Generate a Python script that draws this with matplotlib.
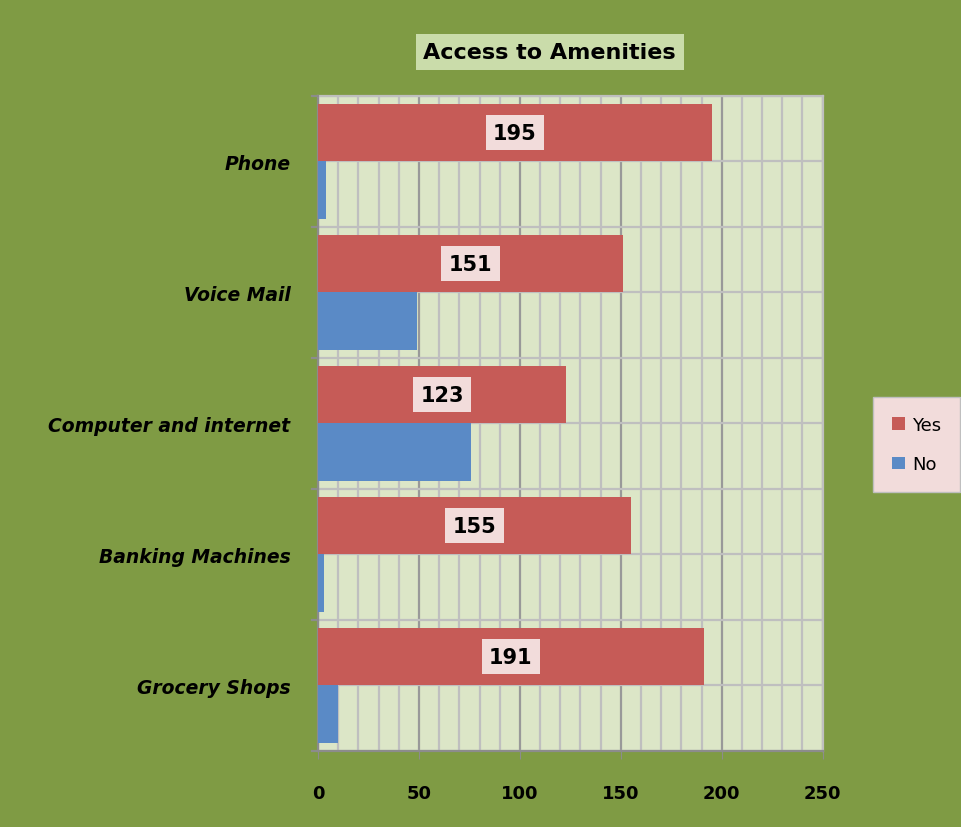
import matplotlib.pyplot as plt
import numpy as np

categories = ['Phone', 'Voice Mail', 'Computer and internet', 'Banking Machines', 'Grocery Shops']
yes_vals = [195, 151, 123, 155, 191]
no_vals = [4, 49, 76, 3, 10]

bg = '#7f9b44'
plot_bg = '#dce6c7'
red = '#c65b57'
blue = '#5a8ac6'
pink = '#f2dcdb'

fig = plt.figure(figsize=(9.61, 8.28), dpi=100, facecolor=bg)
ax = fig.add_axes([0.331, 0.092, 0.525, 0.791])
ax.set_facecolor(plot_bg)

n = len(categories)
pos = np.arange(n)
h = 0.44
ax.barh(pos - h / 2, yes_vals, height=h, color=red, label='Yes', zorder=3)
ax.barh(pos + h / 2, no_vals, height=h, color=blue, label='No', zorder=3)

for p, v in zip(pos, yes_vals):
    ax.text(v / 2, p - h / 2, str(v), ha='center', va='center', fontsize=15,
            fontweight='bold', color='black', zorder=4,
            bbox=dict(boxstyle='square,pad=0.35', facecolor=pink, edgecolor='none'))

ax.set_xlim(0, 250)
ax.set_ylim(n - 0.5, -0.5)

# gridlines
ax.set_xticks(np.arange(0, 251, 50))
ax.set_xticks(np.arange(0, 251, 10), minor=True)
ax.set_yticks(pos)
ax.set_yticks(np.arange(-0.5, n, 1.0), minor=True)
ax.grid(True, which='minor', axis='both', color='#bfbfbf', linewidth=1.6, zorder=1)
ax.grid(True, which='major', axis='y', color='#bfbfbf', linewidth=1.6, zorder=1)
ax.grid(True, which='major', axis='x', color='#999999', linewidth=1.6, zorder=1)
ax.set_axisbelow(True)

ax.set_yticklabels(categories, fontsize=13.5, fontweight='bold', fontstyle='italic')
ax.set_xticklabels([str(t) for t in range(0, 251, 50)], fontsize=13, fontweight='bold')
ax.tick_params(axis='y', which='major', length=0, pad=20)
ax.tick_params(axis='x', which='major', length=6, color='#8c8c8c', pad=18)
ax.tick_params(axis='x', which='minor', length=0)
ax.tick_params(axis='y', which='minor', length=0)
# tick marks at category boundaries
for b in np.arange(-0.5, n, 1.0):
    ax.plot([-0.012, 0], [b, b], transform=ax.get_yaxis_transform(), color='#8c8c8c',
            linewidth=1.6, clip_on=False, zorder=5)

for s in ['left', 'bottom']:
    ax.spines[s].set_color('#8c8c8c')
    ax.spines[s].set_linewidth(1.6)
for s in ['right', 'top']:
    ax.spines[s].set_color('#bfbfbf')
    ax.spines[s].set_linewidth(1.6)

fig.text(0.572, 0.936, 'Access to Amenities', ha='center', va='center',
         fontsize=16, fontweight='bold',
         bbox=dict(boxstyle='square,pad=0.35', facecolor='#cadcaa', edgecolor='none'))

leg = fig.legend(loc='center', bbox_to_anchor=(0.954, 0.462), frameon=True,
                 fontsize=13, handlelength=0.7, handleheight=0.7, labelspacing=1.2,
                 borderpad=0.75, handletextpad=0.4, borderaxespad=0)
leg.get_frame().set_facecolor(pink)
leg.get_frame().set_edgecolor('#bfbfbf')
leg.get_frame().set_boxstyle('square')
leg.get_frame().set_alpha(1)

fig.savefig('out.png', dpi=100, facecolor=bg)
